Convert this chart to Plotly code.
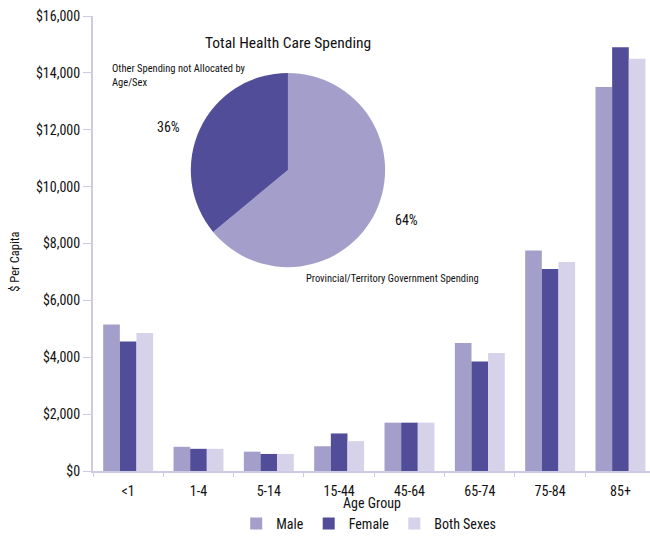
import plotly.graph_objects as go

# Per-capita provincial/territorial health spending by age group and sex
age_groups = ["<1", "1-4", "5-14", "15-44", "45-64", "65-74", "75-84", "85+"]
male = [5150, 850, 680, 870, 1700, 4500, 7750, 13500]
female = [4550, 780, 600, 1320, 1700, 3850, 7100, 14900]
both_sexes = [4850, 780, 600, 1050, 1700, 4150, 7350, 14500]

# Share of total health care spending
pie_labels = ["Provincial/Territory Government Spending", "Other Spending not Allocated by<br>Age/Sex"]
pie_values = [64, 36]

C_MALE = "#a39fca"
C_FEMALE = "#514d99"
C_BOTH = "#d5d2e9"
AXIS = "#cdcbe3"
FONT = "Roboto Condensed, Liberation Sans Narrow, Roboto, sans-serif"


def font(size):
    return dict(family=FONT, size=size, color="#111")


fig = go.Figure()
for name, vals, col in [("Male", male, C_MALE), ("Female", female, C_FEMALE), ("Both Sexes", both_sexes, C_BOTH)]:
    fig.add_trace(go.Bar(x=age_groups, y=vals, name=name, marker=dict(color=col, line=dict(width=0))))

fig.add_trace(go.Pie(
    labels=pie_labels, values=pie_values, sort=False, direction="clockwise", rotation=0,
    marker=dict(colors=[C_MALE, C_FEMALE], line=dict(width=0)),
    textinfo="none", hoverinfo="label+percent", showlegend=False,
    domain=dict(x=[0.167, 0.533], y=[0.448, 0.875]),
))

annotations = [
    dict(x=0.35, y=0.94, xref="paper", yref="paper", text="Total Health Care Spending",
         showarrow=False, font=font(15.5), xanchor="center", yanchor="middle"),
    dict(x=0.030, y=0.87, xref="paper", yref="paper", text=pie_labels[1], align="left",
         showarrow=False, font=font(10.5), xanchor="left", yanchor="middle"),
    dict(x=0.135, y=0.755, xref="paper", yref="paper", text=f"{pie_values[1]}%",
         showarrow=False, font=font(14), xanchor="center", yanchor="middle"),
    dict(x=0.562, y=0.551, xref="paper", yref="paper", text=f"{pie_values[0]}%",
         showarrow=False, font=font(14), xanchor="center", yanchor="middle"),
    dict(x=0.378, y=0.422, xref="paper", yref="paper", text=pie_labels[0],
         showarrow=False, font=font(10.5), xanchor="left", yanchor="middle"),
    # axis titles as annotations so they sit at fixed spots around the plot
    dict(x=-0.14, y=0.46, xref="paper", yref="paper", text="$ Per Capita", textangle=-90,
         showarrow=False, font=font(12.5), xanchor="center", yanchor="middle"),
    dict(x=0.5, y=-0.071, xref="paper", yref="paper", text="Age Group",
         showarrow=False, font=font(14), xanchor="center", yanchor="middle"),
]

fig.update_layout(
    width=650, height=538,
    margin=dict(l=93, r=0, t=16, b=67, autoexpand=False),
    paper_bgcolor="white", plot_bgcolor="white",
    font=font(14),
    barmode="group", bargap=0.29, bargroupgap=0,
    annotations=annotations,
    legend=dict(orientation="h", x=0.495, xanchor="center", yref="container", y=0.026,
                yanchor="middle", font=font(14), traceorder="normal"),
    xaxis=dict(range=[-0.5, 7.42], showline=True, linecolor=AXIS, linewidth=2,
               ticks="outside", tickson="boundaries", ticklen=4, tickcolor=AXIS,
               ticklabelstandoff=6, automargin=False,
               showgrid=False, tickfont=font(14)),
    yaxis=dict(range=[0, 16000], dtick=2000, tickprefix="$", tickformat=",", showline=True,
               linecolor=AXIS, linewidth=2, ticks="outside", ticklen=8, tickcolor=AXIS,
               automargin=False,
               showgrid=False, zeroline=False, tickfont=font(14)),
)

fig.write_html("out.html")
